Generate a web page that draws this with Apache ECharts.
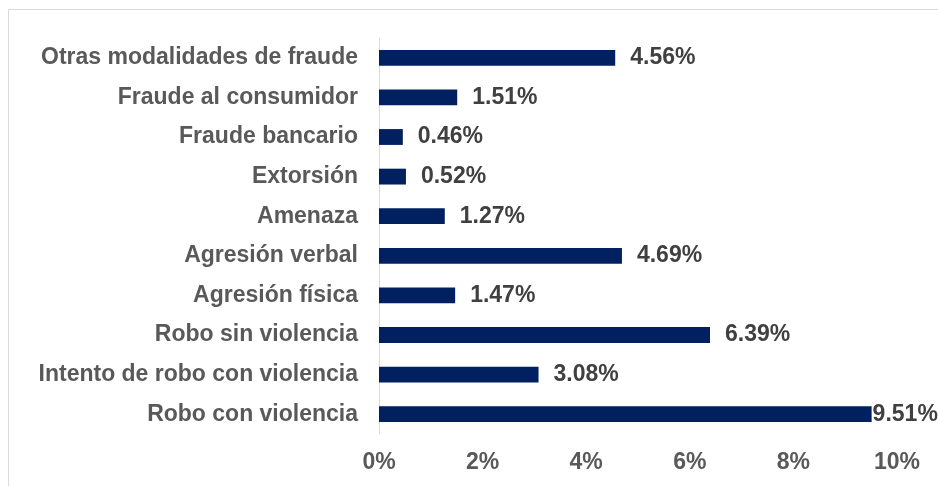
<!DOCTYPE html>
<html>
<head>
<meta charset="utf-8">
<script src="https://cdn.jsdelivr.net/npm/echarts@6/dist/echarts.min.js"></script>
<style>
  html, body { margin: 0; padding: 0; background: #fff; }
  #chart { width: 938px; height: 486px; }
</style>
</head>
<body>
<div id="chart"></div>
<script>
// categories, bottom to top
var categories = [
    'Robo con violencia',
    'Intento de robo con violencia',
    'Robo sin violencia',
    'Agresión física',
    'Agresión verbal',
    'Amenaza',
    'Extorsión',
    'Fraude bancario',
    'Fraude al consumidor',
    'Otras modalidades de fraude'
];
var values = [9.51, 3.08, 6.39, 1.47, 4.69, 1.27, 0.52, 0.46, 1.51, 4.56];
var xTicks = [0, 2, 4, 6, 8, 10];

var maxVal = Math.max.apply(null, values);

var myChart = echarts.init(document.getElementById('chart'));
var option = {
    animation: false,
    graphic: [
        {
            type: 'rect',
            shape: { x: 8.5, y: 9.5, width: 1000, height: 1000 },
            style: { fill: 'none', stroke: '#d9d9d9', lineWidth: 1 },
            silent: true
        }
    ],
    grid: {
        left: 379,
        right: 41,
        top: 38,
        bottom: 52
    },
    xAxis: {
        type: 'value',
        min: xTicks[0],
        max: xTicks[xTicks.length - 1],
        interval: 2,
        axisLine: { show: false },
        axisTick: { show: false },
        splitLine: { show: false },
        axisLabel: {
            margin: 17,
            color: '#595959',
            fontFamily: 'Liberation Sans, Arial, sans-serif',
            fontWeight: 'bold',
            fontSize: 23,
            formatter: function (v) {
                return v + '%';
            }
        }
    },
    yAxis: {
        type: 'category',
        data: categories,
        axisLine: { show: true, lineStyle: { color: '#d9d9d9', width: 1 } },
        axisTick: { show: false },
        axisLabel: {
            margin: 21,
            color: '#595959',
            fontFamily: 'Liberation Sans, Arial, sans-serif',
            fontWeight: 'bold',
            fontSize: 23
        }
    },
    series: [
        {
            type: 'bar',
            barWidth: '40%',
            itemStyle: { color: '#002060' },
            label: {
                show: true,
                position: 'right',
                distance: 15,
                color: '#404040',
                fontFamily: 'Liberation Sans, Arial, sans-serif',
                fontWeight: 'bold',
                fontSize: 23,
                formatter: function (p) {
                    return p.value.toFixed(2) + '%';
                }
            },
            data: values.map(function (v) {
                // the longest bar's label sits right against the bar end
                if (v === maxVal) {
                    return { value: v, label: { distance: 1 } };
                }
                return v;
            })
        }
    ]
};
myChart.setOption(option);
</script>
</body>
</html>
